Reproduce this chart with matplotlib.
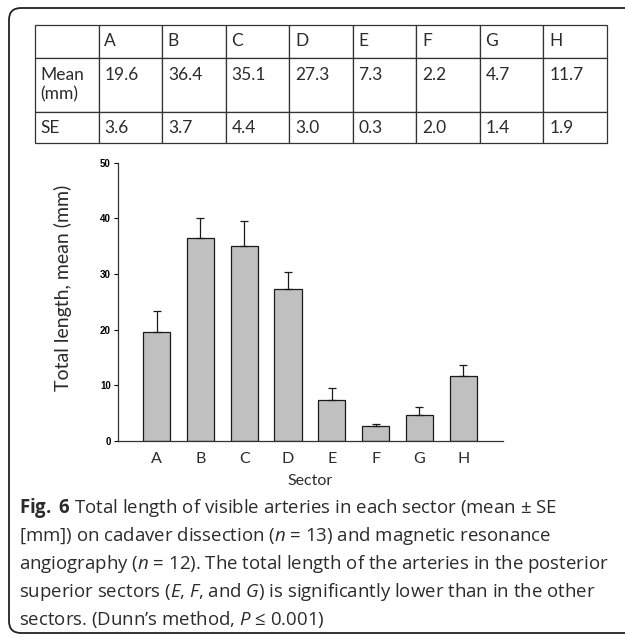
import matplotlib
matplotlib.use("Agg")
import matplotlib.pyplot as plt
from matplotlib.patches import FancyBboxPatch
import numpy as np

# --- data ---
sectors = ['A', 'B', 'C', 'D', 'E', 'F', 'G', 'H']
table_mean = ['19.6', '36.4', '35.1', '27.3', '7.3', '2.2', '4.7', '11.7']
table_se = ['3.6', '3.7', '4.4', '3.0', '0.3', '2.0', '1.4', '1.9']
# bars as drawn in the chart (E/F error bars look swapped vs the table)
bar_mean = [19.6, 36.4, 35.1, 27.3, 7.3, 2.7, 4.7, 11.7]
bar_se = [3.7, 3.7, 4.4, 3.0, 2.2, 0.3, 1.4, 2.0]

caption_lines = [
    r"$\mathbf{Fig.}$ $\mathbf{6}$ Total length of visible arteries in each sector (mean ± SE",
    r"[mm]) on cadaver dissection ($\mathit{n}$ = 13) and magnetic resonance",
    r"angiography ($\mathit{n}$ = 12). The total length of the arteries in the posterior",
    r"superior sectors ($\mathit{E}$, $\mathit{F}$, and $\mathit{G}$) is significantly lower than in the other",
    r"sectors. (Dunn’s method, $\mathit{P}$ ≤ 0.001)",
]

W, H = 625, 637
plt.rcParams['mathtext.fontset'] = 'custom'
plt.rcParams['mathtext.rm'] = 'Open Sans'
plt.rcParams['mathtext.it'] = 'Open Sans:italic'
plt.rcParams['mathtext.bf'] = 'Open Sans:bold'

fig = plt.figure(figsize=(W / 100, H / 100), dpi=100)


def box(x0, y0, x1, y1):
    # pixel box (top-left origin) -> figure fraction rect
    return [x0 / W, 1 - y1 / H, (x1 - x0) / W, (y1 - y0) / H]


# page layer in pixel units
page = fig.add_axes([0, 0, 1, 1])
page.set_xlim(0, W)
page.set_ylim(H, 0)
page.axis('off')
page.add_patch(FancyBboxPatch((9, 8), 660, 625, boxstyle="round,pad=0,rounding_size=12",
                              fc='none', ec='#222222', lw=1.3))

text_col = '#2b2b2b'
line_y = [508, 536, 564, 592, 620]
for txt, y in zip(caption_lines, line_y):
    page.text(19, y, txt, fontsize=13.4, family=['Open Sans', 'DejaVu Sans'],
              color=text_col, va='center', ha='left')

# --- table ---
tax = fig.add_axes(box(35, 24.7, 607, 143))
tax.axis('off')
cells = [[''] + sectors,
         ['Mean\n(mm)'] + [v + '\n ' for v in table_mean],
         ['SE'] + table_se]
tbl = tax.table(cellText=cells, cellLoc='left', bbox=[0, 0, 1, 1])
tbl.auto_set_font_size(False)
row_h = [33, 55, 31]
for (r, c), cell in tbl.get_celld().items():
    cell.set_height(row_h[r])
    cell.set_width(1)
    cell.set_edgecolor('#333333')
    cell.set_linewidth(0.9)
    cell.PAD = 0.09
    t = cell.get_text()
    t.set_fontsize(12.5)
    t.set_family('Lato')
    t.set_color(text_col)
    t.set_linespacing(1.25)

# --- bar chart ---
ax = fig.add_axes(box(117.7, 162.7, 503, 441))
x = np.arange(len(sectors))
ax.bar(x, bar_mean, width=0.62, color='#c0c0c0', edgecolor='#1a1a1a', linewidth=0.9,
       yerr=[np.zeros(len(bar_se)), bar_se], capsize=3,
       error_kw=dict(ecolor='#1a1a1a', elinewidth=0.9, capthick=0.9))
ax.set_ylim(0, 50)
ax.set_xlim(-0.89, 7.91)
ax.set_yticks([0, 10, 20, 30, 40, 50])
ax.set_xticks(x)
ax.set_xticklabels(sectors, fontsize=11.5, family='Lato', color=text_col)
for lab in ax.get_yticklabels():
    lab.set_fontsize(7)
    lab.set_fontweight('bold')
    lab.set_family('Liberation Sans')
ax.tick_params(axis='y', length=3, width=0.8, pad=2)
ax.tick_params(axis='x', length=0, pad=8)
for s in ['top', 'right']:
    ax.spines[s].set_visible(False)
for s in ['left', 'bottom']:
    ax.spines[s].set_linewidth(0.9)
    ax.spines[s].set_color('#333333')
ax.set_ylabel('Total length, mean (mm)', fontsize=14, family='Lato', color=text_col)
ax.yaxis.set_label_coords(-0.119, 0.55)
ax.set_xlabel('Sector', fontsize=11.5, family='Lato', color=text_col)
ax.xaxis.set_label_coords(0.5, -0.118)

fig.savefig('out.png', dpi=100)
